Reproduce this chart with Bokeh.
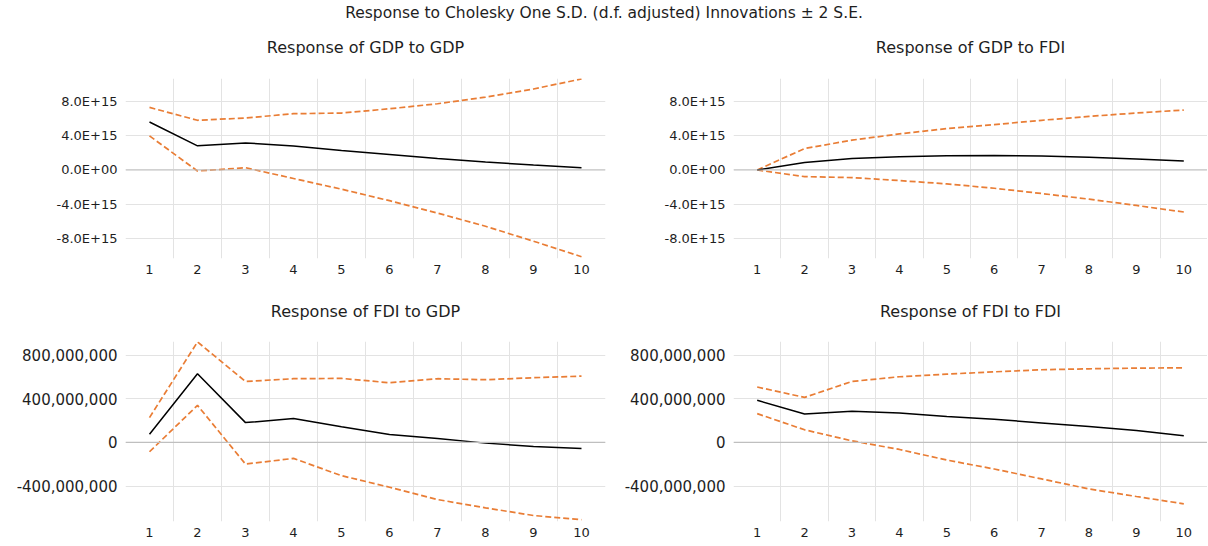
from bokeh.plotting import figure
from bokeh.layouts import column, row
from bokeh.models import FixedTicker, Span, Label, Range1d
from bokeh.embed import file_html
from bokeh.resources import INLINE

# ---------------- data ----------------
periods = list(range(1, 11))

gdp_gdp = [5.63e15, 2.83e15, 3.18e15, 2.80e15, 2.29e15, 1.83e15, 1.36e15, 0.93e15, 0.58e15, 0.27e15]
gdp_gdp_upper = [7.34e15, 5.83e15, 6.10e15, 6.60e15, 6.68e15, 7.18e15, 7.77e15, 8.54e15, 9.50e15, 10.68e15]
gdp_gdp_lower = [4.00e15, -0.12e15, 0.27e15, -1.00e15, -2.25e15, -3.60e15, -5.05e15, -6.60e15, -8.35e15, -10.17e15]

gdp_fdi = [0.0, 0.89e15, 1.36e15, 1.55e15, 1.67e15, 1.71e15, 1.63e15, 1.48e15, 1.28e15, 1.05e15]
gdp_fdi_upper = [0.0, 2.52e15, 3.50e15, 4.23e15, 4.85e15, 5.32e15, 5.83e15, 6.29e15, 6.68e15, 7.03e15]
gdp_fdi_lower = [0.0, -0.78e15, -0.89e15, -1.24e15, -1.63e15, -2.14e15, -2.76e15, -3.42e15, -4.16e15, -4.93e15]

fdi_gdp = [76e6, 630e6, 182e6, 219e6, 143e6, 73e6, 36e6, -6e6, -36e6, -55e6]
fdi_gdp_upper = [228e6, 921e6, 559e6, 584e6, 587e6, 547e6, 584e6, 575e6, 593e6, 608e6]
fdi_gdp_lower = [-85e6, 340e6, -198e6, -146e6, -304e6, -410e6, -523e6, -599e6, -669e6, -708e6]

fdi_fdi = [386e6, 261e6, 286e6, 271e6, 237e6, 213e6, 179e6, 146e6, 109e6, 61e6]
fdi_fdi_upper = [508e6, 413e6, 559e6, 602e6, 626e6, 647e6, 666e6, 675e6, 681e6, 684e6]
fdi_fdi_lower = [264e6, 116e6, 15e6, -64e6, -161e6, -243e6, -334e6, -426e6, -495e6, -562e6]

gdp_ticks = [-8e15, -4e15, 0, 4e15, 8e15]
gdp_tick_labels = ["-8.0E+15", "-4.0E+15", "0.0E+00", "4.0E+15", "8.0E+15"]
fdi_ticks = [-4e8, 0, 4e8, 8e8]
fdi_tick_labels = ["-400,000,000", "0", "400,000,000", "800,000,000"]

main_title = "Response to Cholesky One S.D. (d.f. adjusted) Innovations \u00b1 2 S.E."
titles = ["Response of GDP to GDP", "Response of GDP to FDI",
          "Response of FDI to GDP", "Response of FDI to FDI"]

FONT = "DejaVu Sans"
TXT = "#1e1e1e"
ORANGE = "#E97D35"


def text_strip(text, width, height, bl, br, ypos, size):
    s = figure(width=width, height=height, output_backend="svg", toolbar_location=None,
               x_range=Range1d(0.5, 10.5), y_range=Range1d(0, 1), x_axis_type=None,
               y_axis_type=None, min_border_left=bl, min_border_right=br,
               min_border_top=0, min_border_bottom=0)
    s.outline_line_color = None
    s.add_layout(Label(x=5.5, y=ypos, text=text, text_align="center",
                       text_baseline="middle", text_font=FONT, text_font_size=size,
                       text_color=TXT))
    return s


def panel(mean, upper, lower, yrange, ticks, tick_labels, width, height,
          bl, br, bt, bb, ytick_size):
    p = figure(width=width, height=height, output_backend="svg", toolbar_location=None,
               x_range=Range1d(0.5, 10.5), y_range=Range1d(*yrange),
               min_border_left=bl, min_border_right=br, min_border_top=bt,
               min_border_bottom=bb)
    p.outline_line_color = None

    p.xaxis.ticker = FixedTicker(ticks=periods)
    p.xaxis.axis_line_color = None
    p.xaxis.major_tick_line_color = None
    p.xaxis.minor_tick_line_color = None
    p.xaxis.major_tick_in = 0
    p.xaxis.major_tick_out = 0
    p.xaxis.major_label_standoff = 6
    p.xaxis.major_label_text_font = FONT
    p.xaxis.major_label_text_font_size = "13px"
    p.xaxis.major_label_text_color = TXT

    p.yaxis.ticker = FixedTicker(ticks=ticks)
    p.yaxis.major_label_overrides = {t: l for t, l in zip(ticks, tick_labels)}
    p.yaxis.axis_line_color = None
    p.yaxis.major_tick_line_color = None
    p.yaxis.minor_tick_line_color = None
    p.yaxis.major_tick_in = 0
    p.yaxis.major_tick_out = 0
    p.yaxis.major_label_standoff = 8
    p.yaxis.major_label_text_font = FONT
    p.yaxis.major_label_text_font_size = ytick_size
    p.yaxis.major_label_text_color = TXT

    p.xgrid.ticker = FixedTicker(ticks=[i + 0.5 for i in periods[:-1]])
    p.xgrid.grid_line_color = "#E3E3E3"
    p.ygrid.grid_line_color = "#E3E3E3"

    p.add_layout(Span(location=0, dimension="width", line_color="#BFBFBF", line_width=1.2))

    p.line(periods, upper, line_color=ORANGE, line_width=1.7, line_dash="6 3")
    p.line(periods, lower, line_color=ORANGE, line_width=1.7, line_dash="6 3")
    p.line(periods, mean, line_color="black", line_width=1.5)
    return p


gdp_range = (-1.038e16, 1.073e16)
fdi_range = (-7.24e8, 9.25e8)

# main title strip
t = figure(width=1207, height=22, output_backend="svg", toolbar_location=None,
           x_range=Range1d(0, 1), y_range=Range1d(0, 1), x_axis_type=None,
           y_axis_type=None, min_border=0)
t.outline_line_color = None
t.add_layout(Label(x=0.5, y=0.45, text=main_title, text_align="center",
                   text_baseline="middle", text_font=FONT, text_font_size="15.5px",
                   text_color=TXT))

# subtitle strips
s1 = text_strip(titles[0], 607, 38, 125, 2, 0.33, "16px")
s2 = text_strip(titles[1], 600, 38, 126, 0, 0.33, "16px")
s3 = text_strip(titles[2], 607, 40, 125, 2, 0.37, "16px")
s4 = text_strip(titles[3], 600, 40, 126, 0, 0.37, "16px")

p1 = panel(gdp_gdp, gdp_gdp_upper, gdp_gdp_lower, gdp_range, gdp_ticks,
           gdp_tick_labels, 607, 226, 125, 2, 18, 28, "13px")
p2 = panel(gdp_fdi, gdp_fdi_upper, gdp_fdi_lower, gdp_range, gdp_ticks,
           gdp_tick_labels, 600, 226, 126, 0, 18, 28, "13px")
p3 = panel(fdi_gdp, fdi_gdp_upper, fdi_gdp_lower, fdi_range, fdi_ticks,
           fdi_tick_labels, 607, 219, 125, 2, 15, 24, "15px")
p4 = panel(fdi_fdi, fdi_fdi_upper, fdi_fdi_lower, fdi_range, fdi_ticks,
           fdi_tick_labels, 600, 219, 126, 0, 15, 24, "15px")

layout = column(t, row(s1, s2), row(p1, p2), row(s3, s4), row(p3, p4))

with open("out.html", "w") as f:
    f.write(file_html(layout, INLINE))
